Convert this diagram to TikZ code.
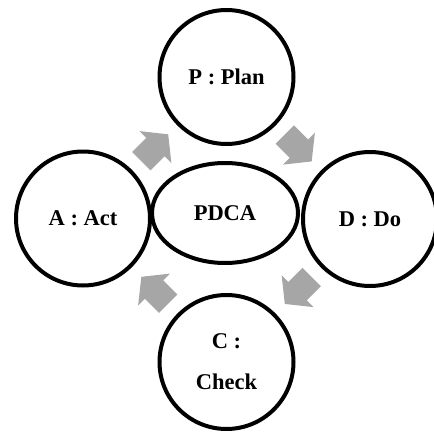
\documentclass[tikz,border=0pt]{standalone}
\usepackage{fontspec}
\setmainfont{Liberation Serif}
\usetikzlibrary{shapes.geometric}
\usetikzlibrary{calc}
\definecolor{arrowgray}{HTML}{A6A6A6}
\begin{document}
\begin{tikzpicture}[x=1pt,y=1pt,yscale=-1,xscale=1]
  %set diagram to 434 by 434
  \useasboundingbox (0,0) rectangle (434,434);
 \tikzstyle{stage} = [draw,circle,line width=4pt,minimum size=134pt,inner sep=0pt,align=center,font=\bfseries\fontsize{22.5}{41}\selectfont]
 \tikzstyle{core} = [draw,ellipse,line width=4pt,minimum width=146pt,minimum height=100pt,inner sep=0pt,font=\bfseries\fontsize{22.5}{26}\selectfont]
 \tikzset{flow/.pic={\fill [arrowgray] (-19,-13) -- (1,-13) -- (1,-22.5) -- (19,0) -- (1,22.5) -- (1,13) -- (-19,13) -- cycle;}}
  %Draw the four stages
 \node [stage] (plan) at (226.5,77) {P : Plan};
 \node [stage] (act) at (83,218.5) {A : Act};
 \node [stage] (do) at (370,219) {D : Do};
 \node [stage] (check) at (226.5,362) {C :\\Check};
  %Draw the centre
 \node [core] (pdca) at (225,213) {PDCA};
  %Draw arrows between the stages
 \pic [rotate=45] at ($(act)!0.5!(plan)$) {flow};
 \pic [rotate=-45] at ($(plan)!0.5!(do)$) {flow};
 \pic [rotate=-135] at ($(do)!0.5!(check)$) {flow};
 \pic [rotate=135] at ($(check)!0.5!(act)$) {flow};
\end{tikzpicture}
\end{document}
